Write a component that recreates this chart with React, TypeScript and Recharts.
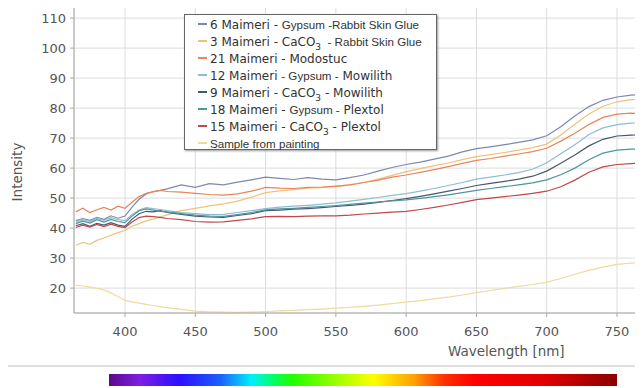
import { LineChart, Line, XAxis, YAxis, CartesianGrid } from "recharts";

// wavelength in nm
const wavelengths = [
  365, 370, 375, 380, 385, 390, 395, 400, 405, 410, 415, 420, 425, 430,
  440, 450, 460, 470, 480, 490, 500, 510, 520, 530, 540, 550, 560, 570, 580, 590,
  600, 610, 620, 630, 640, 650, 660, 670, 680, 690, 700, 710, 720, 730, 740, 750, 760, 768,
];

const gypsumRsg6 = [
  42.5, 43.2, 42.6, 43.6, 42.9, 44.1, 43.3, 44.0, 47.0, 49.6, 51.4, 52.2, 52.6, 53.1,
  54.4, 53.6, 54.8, 54.4, 55.3, 56.1, 57.0, 56.6, 56.2, 56.8, 56.3, 56.1, 56.8, 57.7, 59.0, 60.2,
  61.2, 62.0, 63.0, 64.0, 65.4, 66.5, 67.1, 67.8, 68.6, 69.4, 70.8, 73.8, 77.4, 80.5, 82.6, 83.7, 84.3, 84.6,
];
const caco3Rsg3 = [
  34.3, 35.2, 34.6, 35.9, 36.7, 37.6, 38.5, 39.3, 40.6, 41.5, 42.4, 43.0, 43.7, 44.4,
  45.8, 46.6, 47.4, 48.1, 49.0, 50.3, 51.8, 52.4, 52.8, 53.3, 53.5, 53.8, 54.4, 55.2, 56.3, 57.6,
  58.8, 59.8, 60.8, 61.7, 62.8, 63.8, 64.5, 65.2, 66.0, 66.8, 68.0, 71.0, 74.6, 78.0, 80.6, 82.1, 82.8, 83.0,
];
const modostuc21 = [
  45.4, 46.6, 45.2, 46.1, 46.9, 46.0, 47.3, 46.6, 48.6, 50.5, 51.6, 52.1, 52.6, 52.2,
  52.0, 51.6, 51.2, 51.0, 51.4, 52.3, 53.6, 53.3, 53.2, 53.6, 53.7, 54.0, 54.4, 55.2, 56.0, 57.0,
  57.7, 58.6, 59.5, 60.5, 61.6, 62.6, 63.2, 64.0, 64.7, 65.5, 66.6, 69.0, 71.6, 74.5, 76.9, 78.0, 78.3, 78.2,
];
const gypsumMowilith12 = [
  42.0, 42.8, 42.2, 43.2, 42.6, 43.5, 42.8, 42.5, 44.5, 46.0, 46.8, 46.5, 46.2, 45.8,
  45.2, 44.8, 44.5, 44.6, 45.2, 45.8, 46.5, 47.0, 47.3, 47.6, 48.0, 48.4, 49.0, 49.6, 50.2, 50.9,
  51.5, 52.3, 53.2, 54.2, 55.2, 56.3, 57.0, 57.7, 58.5, 59.6, 61.8, 64.8, 67.8, 71.2, 73.4, 74.5, 75.0, 75.1,
];
const caco3Mowilith9 = [
  40.8, 41.5, 40.6, 41.6, 41.0, 41.8, 41.0, 40.6, 43.0, 44.8, 45.6, 45.4, 45.8, 45.2,
  44.6, 44.0, 43.7, 43.6, 44.2, 44.8, 45.8, 46.0, 46.3, 46.5, 46.8, 47.2, 47.6, 48.0, 48.6, 49.2,
  49.8, 50.6, 51.4, 52.3, 53.2, 54.2, 54.9, 55.6, 56.3, 57.3, 59.0, 61.6, 64.4, 67.4, 69.6, 70.7, 71.0, 71.1,
];
const gypsumPlextol18 = [
  41.5, 42.3, 41.7, 42.8, 42.0, 42.9, 42.2, 41.8, 44.0, 45.8, 46.4, 46.0, 45.6, 45.4,
  44.8, 44.3, 44.0, 43.9, 44.5, 45.2, 46.1, 46.4, 46.6, 46.9, 47.2, 47.5, 47.9, 48.3, 48.7, 49.1,
  49.4, 49.9, 50.5, 51.1, 51.8, 52.6, 53.2, 53.8, 54.4, 55.1, 56.1, 57.8, 60.0, 62.8, 65.0, 66.0, 66.3, 66.4,
];
const caco3Plextol15 = [
  40.2, 41.0, 40.3, 41.2, 40.5, 41.3, 40.6, 40.2, 42.0, 43.5, 44.0, 43.8, 43.6, 43.2,
  42.8, 42.2, 42.0, 42.1, 42.6, 43.1, 43.8, 43.9, 43.8, 44.0, 44.1, 44.1, 44.3, 44.7, 45.0, 45.3,
  45.6, 46.2, 46.9, 47.7, 48.6, 49.5, 50.0, 50.5, 51.0, 51.6, 52.3, 53.8, 56.0, 58.6, 60.4, 61.2, 61.5, 61.7,
];
const paintingSample = [
  21.0, 20.7, 20.3, 19.9, 19.4, 18.4, 17.2, 15.9, 15.4, 15.0, 14.6, 14.2, 13.8, 13.5,
  12.9, 12.3, 12.1, 12.0, 11.9, 12.0, 12.2, 12.4, 12.6, 12.8, 13.0, 13.3, 13.6, 13.9, 14.3, 14.8,
  15.3, 15.8, 16.4, 17.0, 17.7, 18.5, 19.2, 19.9, 20.6, 21.2, 22.0, 23.2, 24.6, 25.9, 27.0, 27.9, 28.3, 28.5,
];

const xTicks = [400, 450, 500, 550, 600, 650, 700, 750];
const yTicks = [20, 30, 40, 50, 60, 70, 80, 90, 100, 110];
const xMinorTicks = Array.from({ length: 33 }, (_, i) => 362.5 + i * 12.5);
const yMinorTicks = Array.from({ length: 52 }, (_, i) => 12 + i * 2);

// legend label parts: even parts in the wide font, odd parts in the narrow one
const series = [
  { key: "s6", color: "#7e88ad", values: gypsumRsg6, label: ["6 Maimeri - ", "Gypsum -Rabbit Skin Glue"] },
  { key: "s3", color: "#efc27a", values: caco3Rsg3, label: ["3 Maimeri - CaCO3", "  - Rabbit Skin Glue"] },
  { key: "s21", color: "#e8855a", values: modostuc21, label: ["21 Maimeri - Modostuc"] },
  { key: "s12", color: "#8dbdd2", values: gypsumMowilith12, label: ["12 Maimeri ", "- Gypsum -", " Mowilith"] },
  { key: "s9", color: "#465870", values: caco3Mowilith9, label: ["9 Maimeri - CaCO3 - Mowilith"] },
  { key: "s18", color: "#4f9699", values: gypsumPlextol18, label: ["18 Maimeri - ", "Gypsum -", " Plextol"] },
  { key: "s15", color: "#c04848", values: caco3Plextol15, label: ["15 Maimeri - CaCO3 - Plextol"] },
  { key: "sample", color: "#eedb9f", values: paintingSample, label: ["", "Sample from painting"] },
];

const data = wavelengths.map((w, i) => {
  const row: Record<string, number> = { w };
  series.forEach((s) => (row[s.key] = s.values[i]));
  return row;
});

const WIDE = "'DejaVu Sans', Verdana, sans-serif";
const NARROW = "'Liberation Sans', Arial, sans-serif";
const axisColor = "#a8a8a8";
const tickStyle = { fontFamily: WIDE, fontSize: 13, fill: "#555" };

function withSub(text: string) {
  const parts = text.split("CaCO3");
  return parts.map((p, i) => (
    <span key={i}>
      {p}
      {i < parts.length - 1 && (
        <>
          CaCO<sub style={{ fontSize: 9, verticalAlign: -4, lineHeight: 0 }}>3</sub>
        </>
      )}
    </span>
  ));
}

function LegendBox() {
  return (
    <div
      style={{
        position: "absolute",
        left: 184,
        top: 14,
        width: 253,
        height: 136,
        boxSizing: "border-box",
        border: "1px solid #666",
        boxShadow: "1px 1px 2px #999",
        background: "#fff",
        paddingTop: 1,
        color: "#333",
      }}
    >
      {series.map((s) => (
        <div key={s.key} style={{ height: 16.9, display: "flex", alignItems: "center", whiteSpace: "pre" }}>
          <span style={{ display: "inline-block", marginLeft: 13, width: 9, height: 2, background: s.color }} />
          <span style={{ marginLeft: 3 }}>
            {s.label.map((t, i) => (
              <span
                key={i}
                style={{ fontFamily: i % 2 === 0 ? WIDE : NARROW, fontSize: i % 2 === 0 ? 12 : 11.6 }}
              >
                {withSub(t)}
              </span>
            ))}
          </span>
        </div>
      ))}
    </div>
  );
}

export default function App() {
  return (
    <div style={{ position: "relative", width: 643, height: 388, margin: "-8px 0 0 -8px", background: "#fff", overflow: "hidden" }}>
      <LineChart width={643} height={388} data={data} margin={{ top: 4, right: 0, bottom: 45, left: 0 }}>
        <XAxis
          xAxisId="minor"
          dataKey="w"
          type="number"
          domain={[363.7, 768.5]}
          allowDataOverflow
          ticks={xMinorTicks}
          height={0}
          axisLine={false}
          tickSize={3}
          tickLine={{ stroke: axisColor }}
          tickFormatter={() => ""}
        />
        <YAxis
          yAxisId="minor"
          type="number"
          domain={[11.7, 114.7]}
          allowDataOverflow
          ticks={yMinorTicks}
          width={0}
          axisLine={false}
          tickSize={2}
          tickLine={{ stroke: axisColor }}
          tickFormatter={() => ""}
        />
        <CartesianGrid stroke="#dcdcdc" strokeWidth={1} />
        <XAxis
          dataKey="w"
          type="number"
          domain={[363.7, 768.5]}
          allowDataOverflow
          ticks={xTicks}
          height={30}
          tickSize={4}
          tickMargin={10}
          stroke={axisColor}
          tick={tickStyle}
        />
        <YAxis
          type="number"
          domain={[11.7, 114.7]}
          allowDataOverflow
          ticks={yTicks}
          width={74}
          tickSize={4}
          tickMargin={4}
          stroke={axisColor}
          tick={tickStyle}
        />
        {series.map((s) => (
          <Line
            key={s.key}
            dataKey={s.key}
            stroke={s.color}
            strokeWidth={1.2}
            dot={false}
            type="linear"
            isAnimationActive={false}
          />
        ))}
      </LineChart>

      <div
        style={{
          position: "absolute",
          left: 17,
          top: 172,
          transform: "translate(-50%, -50%) rotate(-90deg)",
          fontFamily: WIDE,
          fontSize: 13.5,
          color: "#555",
          whiteSpace: "nowrap",
        }}
      >
        Intensity
      </div>
      <div
        style={{
          position: "absolute",
          left: 448,
          top: 343,
          fontFamily: WIDE,
          fontSize: 13.5,
          color: "#555",
          whiteSpace: "nowrap",
        }}
      >
        Wavelength [nm]
      </div>
      <div style={{ position: "absolute", left: 0, top: 365, width: 643, height: 2, background: "#dedede" }} />
      <div
        style={{
          position: "absolute",
          left: 109,
          top: 374,
          width: 508,
          height: 12,
          background:
            "linear-gradient(to right, #5c0a8c 0%, #7d1ee0 6%, #2a10ff 14%, #1c60ff 22%, #00f0ff 28%, #00ff70 32%, #20ff00 36%, #a0ff00 45%, #ffff00 52%, #ffa000 60%, #ff3000 66%, #ff0000 72%, #e00000 86%, #8a0000 100%)",
        }}
      />
      <LegendBox />
    </div>
  );
}
